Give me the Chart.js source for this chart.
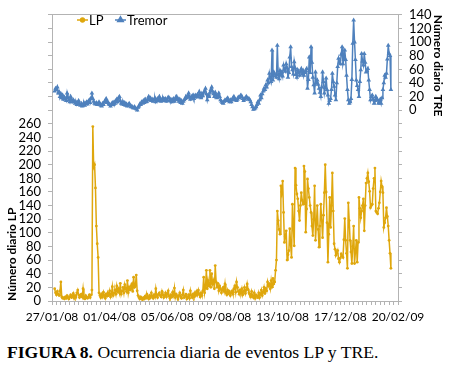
<!DOCTYPE html>
<html>
<head>
<meta charset="utf-8">
<script src="https://cdn.jsdelivr.net/npm/chart.js@4"></script>
<style>
body{margin:0;background:#fff;width:450px;height:376px;position:relative;overflow:hidden}
#wrap{position:absolute;left:0;top:0;width:450px;height:332px}
#cap{position:absolute;left:7px;top:342px;font:17.6px "Liberation Serif",serif;white-space:nowrap;color:#000}
</style>
</head>
<body>
<div id="wrap"><canvas id="chart" width="450" height="332"></canvas></div>
<div id="cap"><b>FIGURA 8.</b> Ocurrencia diaria de eventos LP y TRE.</div>
<script>
// x axis: days after 27/01/08, labels every 65 days
const tickLabels=['27/01/08','01/04/08','05/06/08','09/08/08','13/10/08','17/12/08','20/02/09'];
const firstDay=3;
// daily LP events (left axis)
const lpCounts=[
 18,12,9,14,10,8,15,28,6,4,
 5,3,6,4,8,5,3,6,9,5,
 7,11,4,8,6,12,16,9,5,8,
 10,6,18,4,3,8,5,4,6,9,
 5,9,16,256,196,200,166,110,84,64,
 12,8,5,10,6,13,8,4,10,7,
 12,9,15,6,10,21,8,12,16,10,
 22,14,18,12,26,10,15,20,12,24,
 18,14,30,12,20,16,22,25,14,35,
 20,22,38,15,8,5,3,6,4,2,
 5,3,7,4,10,6,3,8,5,12,
 7,4,9,6,18,8,5,10,12,8,
 6,14,9,5,8,12,6,10,15,7,
 4,9,6,13,8,19,5,10,7,3,
 8,12,6,4,9,16,5,7,10,3,
 6,9,4,15,8,5,10,6,12,8,
 14,9,16,10,6,12,8,15,35,12,
 20,45,18,30,22,45,20,40,25,30,
 18,52,28,20,26,15,22,18,12,16,
 20,14,25,12,9,16,11,14,8,12,
 15,10,18,22,13,28,20,14,10,16,
 12,18,9,14,20,11,16,25,17,12,
 10,6,14,8,5,12,4,9,7,5,
 12,5,10,16,8,13,20,11,18,15,
 28,22,25,18,30,20,33,25,28,45,
 60,132,118,105,98,169,160,176,130,86,
 95,103,60,68,74,106,82,64,142,110,
 81,195,170,157,150,132,118,140,159,148,
 142,198,190,101,135,179,165,152,140,130,
 110,96,120,169,89,112,140,105,79,110,
 142,118,93,126,159,200,160,115,57,98,
 152,108,140,188,132,84,76,67,70,74,
 62,57,63,69,66,64,90,121,89,70,
 48,144,118,89,72,55,80,110,55,72,
 89,57,86,152,136,122,132,140,150,103,
 140,173,180,188,175,161,137,140,142,165,
 180,195,132,130,128,136,144,160,176,168,
 159,108,115,122,137,124,110,89,70,48
];
// daily tremor events (right axis)
const tremorCounts=[
 28,32,30,34,25,27,20,24,18,22,
 16,19,17,14,25,18,15,12,20,16,
 12,15,13,10,12,8,11,14,9,7,
 10,6,8,11,7,10,12,9,13,15,
 11,18,25,17,13,10,9,11,8,10,
 12,9,7,6,10,8,12,14,17,11,
 12,9,8,6,9,11,8,12,10,14,
 16,12,18,20,14,10,9,12,8,11,
 7,9,6,8,10,7,5,6,4,3,
 5,3,2,0,4,6,9,8,12,10,
 14,11,16,12,13,17,20,15,18,14,
 16,13,15,18,12,15,17,14,20,16,
 13,15,18,14,16,17,13,15,19,18,
 14,16,12,15,17,13,16,20,15,17,
 13,16,11,14,10,13,15,17,20,18,
 21,25,19,16,20,18,22,17,21,22,
 19,23,20,27,22,18,24,21,26,28,
 32,24,15,22,20,26,30,34,28,24,
 20,26,22,18,21,25,20,15,13,11,
 10,13,15,14,16,18,14,12,15,12,
 15,18,20,17,15,14,16,19,18,20,
 22,20,17,14,16,18,20,18,16,17,
 15,12,8,5,1,2,3,5,8,12,
 10,15,22,18,24,28,32,30,37,34,
 44,40,54,47,42,88,44,56,53,50,
 48,95,52,46,58,53,56,50,66,60,
 57,68,62,48,55,78,93,64,59,53,
 71,62,52,48,59,55,51,57,61,53,
 58,51,55,58,61,32,45,78,55,93,
 70,48,37,25,56,40,44,38,32,26,
 20,34,56,42,25,33,47,30,22,10,
 14,17,30,54,42,35,22,15,40,64,
 76,70,68,82,93,68,74,88,74,51,
 30,15,10,12,17,45,98,132,100,74,
 44,36,30,20,42,59,83,72,66,83,
 70,56,58,61,44,30,15,20,22,16,
 10,14,20,17,15,10,12,16,10,18,
 30,40,51,48,54,75,95,83,80,30
];

const gold='#dfa70d', blue='#4f81bd', axisGray='#b3b3b3';
Chart.defaults.font.family='Lato';
Chart.defaults.font.size=13;
Chart.defaults.color='#000';

const toXY=(arr)=>arr.map((v,i)=>({x:firstDay+i,y:v}));

const inLegend={id:'inLegend',afterDraw(chart){
  const ctx=chart.ctx, y=20;
  const items=[{i:0,x:77,label:'LP'},{i:1,x:115,label:'Tremor'}];
  ctx.save();
  ctx.font='13px Lato';ctx.textBaseline='middle';ctx.textAlign='left';
  for(const it of items){
    const ds=chart.data.datasets[it.i];
    ctx.strokeStyle=ds.borderColor;ctx.fillStyle=ds.borderColor;ctx.lineWidth=1.5;
    ctx.beginPath();ctx.moveTo(it.x,y);ctx.lineTo(it.x+11,y);ctx.stroke();
    Chart.helpers.drawPoint(ctx,{pointStyle:ds.pointStyle,radius:ds.pointRadius+0.5,rotation:0,borderWidth:1},it.x+5.5,y);
    ctx.fillStyle='#000';
    ctx.fillText(it.label,it.x+12,y+1);
  }
  ctx.restore();
}};

new Chart(document.getElementById('chart'),{
  type:'line',
  data:{datasets:[
    {label:'LP',data:toXY(lpCounts),yAxisID:'y',borderColor:gold,backgroundColor:gold,borderWidth:1.5,pointStyle:'circle',pointRadius:1.4,pointBorderWidth:0,tension:0},
    {label:'Tremor',data:toXY(tremorCounts),yAxisID:'y2',borderColor:blue,backgroundColor:blue,borderWidth:1.5,pointStyle:'triangle',pointRadius:2.7,pointBorderWidth:0,tension:0}
  ]},
  options:{
    responsive:false,animation:false,
    layout:{padding:{top:11,left:0,right:0,bottom:0}},
    plugins:{legend:{display:false},tooltip:{enabled:false}},
    scales:{
      x:{type:'linear',min:0,max:390,
        grid:{drawOnChartArea:false,tickLength:4,color:axisGray},
        border:{color:axisGray},
        ticks:{stepSize:5,autoSkip:false,maxRotation:0,padding:5,font:{size:12},
          callback:v=>v%65===0?tickLabels[v/65]:''},
        afterFit:s=>{s.height=31;}},
      x2:{type:'linear',position:'top',min:0,max:390,
        grid:{display:false,drawTicks:false},border:{color:axisGray},ticks:{display:false}},
      y:{position:'left',min:0,max:420,
        grid:{drawOnChartArea:false,tickLength:4,color:axisGray},
        border:{color:axisGray},
        ticks:{stepSize:20,autoSkip:false,padding:7,callback:v=>v<=260?v:''},
        title:{display:true,text:'Número diario LP',align:'start',font:{weight:'bold',size:12},padding:{top:5,bottom:0}},
        afterFit:s=>{s.width=52;}},
      y2:{position:'right',min:-280,max:140,
        grid:{drawOnChartArea:false,tickLength:4,color:axisGray},
        border:{color:axisGray},
        ticks:{stepSize:20,autoSkip:false,padding:7,callback:v=>v>=0?v:''},
        title:{display:true,text:'Número diario TRE',align:'end',font:{weight:'bold',size:12},padding:{top:5,bottom:0}},
        afterFit:s=>{s.width=52;}}
    }
  },
  plugins:[inLegend]
});
</script>
</body>
</html>
